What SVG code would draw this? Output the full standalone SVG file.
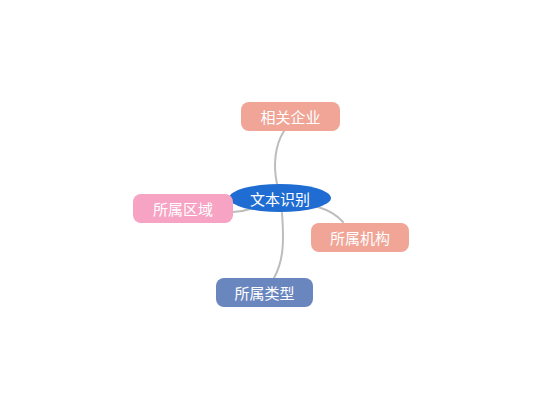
<svg xmlns="http://www.w3.org/2000/svg" width="550" height="420" viewBox="0 0 550 420">
<style>
.t{font-family:"Noto Sans CJK SC","Noto Sans",sans-serif;font-size:15px;fill:#ffffff;text-anchor:middle;dominant-baseline:central}
.c{fill:none;stroke:#BDBDBD;stroke-width:2;stroke-linecap:round}
</style>
<rect width="550" height="420" fill="#ffffff"/>
<g id="connectors">
<path class="c" d="M277,184 C273,165 275,145 284,131"/>
<path class="c" d="M250,209 C244,211 238,212 233,212"/>
<path class="c" d="M318,207 C328,210 337,215 343,222"/>
<path class="c" d="M282,213 C284,240 284,260 274,278"/>
</g>
<g id="n-center"><ellipse cx="280" cy="198" rx="51" ry="14" fill="#1F6DD3"/><text class="t" x="280" y="198">文本识别</text></g>
<g id="n-qiye"><rect x="241" y="102" width="99" height="29" rx="8" fill="#F0A597"/><text class="t" x="290.5" y="116.5">相关企业</text></g>
<g id="n-quyu"><rect x="133" y="194" width="100" height="29" rx="8" fill="#F7A3C3"/><text class="t" x="183" y="208.5">所属区域</text></g>
<g id="n-jigou"><rect x="311" y="223" width="98" height="29" rx="8" fill="#F0A597"/><text class="t" x="360" y="237.5">所属机构</text></g>
<g id="n-leixing"><rect x="216" y="278" width="97" height="29" rx="8" fill="#6A86BE"/><text class="t" x="264.5" y="292.5">所属类型</text></g>
</svg>
